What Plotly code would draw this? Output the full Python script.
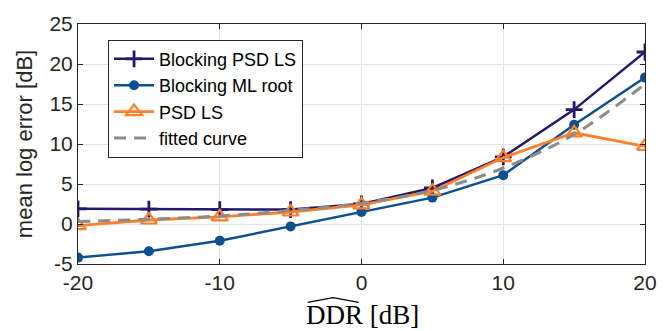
import plotly.graph_objects as go

ddr = [-20, -15, -10, -5, 0, 5, 10, 15, 20]
blocking_psd_ls = [1.9, 1.85, 1.8, 1.8, 2.5, 4.5, 8.4, 14.3, 21.5]
blocking_ml_root = [-4.2, -3.4, -2.1, -0.3, 1.5, 3.3, 6.1, 12.4, 18.3]
psd_ls = [-0.2, 0.5, 0.9, 1.5, 2.4, 4.1, 8.3, 11.4, 9.7]
fitted_curve = [0.3, 0.6, 1.0, 1.7, 2.6, 4.2, 7.0, 11.2, 17.5]

x_ticks = [-20, -10, 0, 10, 20]
x_tick_labels = ["-20", "-10", "0", "10", "20"]
y_ticks = [-5, 0, 5, 10, 15, 20, 25]
y_tick_labels = ["-5", "0", "5", "10", "15", "20", "25"]

fig = go.Figure()
fig.add_trace(go.Scatter(
    x=ddr, y=blocking_psd_ls, name="Blocking PSD LS", mode="lines+markers",
    line=dict(color="#26186c", width=2.5),
    marker=dict(symbol="cross-thin", size=12, line=dict(color="#26186c", width=2.8))))
fig.add_trace(go.Scatter(
    x=ddr, y=blocking_ml_root, name="Blocking ML root", mode="lines+markers",
    line=dict(color="#0d5090", width=2.5),
    marker=dict(symbol="circle", size=10, color="#0d5090")))
fig.add_trace(go.Scatter(
    x=ddr, y=psd_ls, name="PSD LS", mode="lines+markers",
    line=dict(color="#ff7f2a", width=2.8),
    marker=dict(symbol="triangle-up-open", size=14, line=dict(color="#ff7f2a", width=2.2))))
fig.add_trace(go.Scatter(
    x=ddr, y=fitted_curve, name="fitted curve", mode="lines",
    line=dict(color="#8c8c8c", width=3, dash="12px,8px", shape="spline")))

axis_common = dict(
    showgrid=True, gridcolor="#e3e3e3", gridwidth=1,
    showline=True, linecolor="#262626", linewidth=1, mirror="ticks",
    ticks="inside", ticklen=5, tickcolor="#262626",
    tickfont=dict(family="Liberation Sans, Arial", size=21, color="#262626"),
    zeroline=False,
)

fig.update_xaxes(range=[-20, 20], tickvals=x_ticks, ticktext=x_tick_labels, **axis_common)
fig.update_yaxes(range=[-5, 25], tickvals=y_ticks, ticktext=y_tick_labels,
                 title=dict(text="mean log error [dB]",
                            font=dict(family="Liberation Sans, Arial", size=22, color="#262626"),
                            standoff=10),
                 **axis_common)

fig.add_annotation(
    x=0.502, y=-0.212, xref="paper", yref="paper", xanchor="center", yanchor="middle",
    text="DDR [dB]", showarrow=False,
    font=dict(family="Liberation Serif, Times New Roman", size=27, color="#000000"))
# wide hat over DDR
fig.add_shape(type="path", xref="paper", yref="paper",
              path="M 0.405 -0.160 L 0.450 -0.140 L 0.495 -0.160",
              line=dict(color="#000000", width=1.2))

fig.update_layout(
    width=669, height=331,
    margin=dict(l=78, r=24, t=21, b=67),
    plot_bgcolor="white", paper_bgcolor="white",
    showlegend=True,
    legend=dict(
        x=0.053, y=0.935, xanchor="left", yanchor="top",
        bgcolor="white", bordercolor="#262626", borderwidth=1,
        font=dict(family="Liberation Sans, Arial", size=18, color="#000000"),
        tracegroupgap=0, itemwidth=40,
    ),
)

fig.write_html("out.html")
